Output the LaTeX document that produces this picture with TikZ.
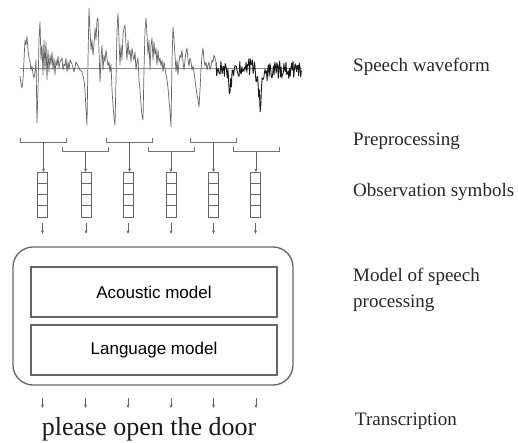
\documentclass[tikz,border=0pt]{standalone}
\usepackage{fontspec}
\setmainfont{Liberation Serif}
\newfontfamily\sansf{Liberation Sans}
\usetikzlibrary{arrows.meta}
\begin{document}
\begin{tikzpicture}[x=1pt,y=-1pt,
  wave/.style={draw=black!60,line width=0.7pt,line join=round},
  noise/.style={draw=black!90,line width=0.9pt,line join=round},
  zeroline/.style={draw=black!45,line width=0.5pt},
  brk/.style={draw=black!55,line width=0.8pt},
  arr/.style={draw=black!60,line width=0.7pt,-{Stealth[length=3.5pt,width=3pt]}},
  obsbox/.style={draw=black!60,line width=0.8pt,minimum width=10pt,minimum height=45pt,inner sep=0pt},
  modelbox/.style={draw=black!60,line width=1.2pt,minimum width=246pt,minimum height=50pt,font=\sansf\fontsize{17}{20}\selectfont},
  outerbox/.style={draw=black!60,line width=1.3pt,rounded corners=20pt,minimum width=280pt,minimum height=138pt},
  lbl/.style={anchor=base west,inner sep=0pt,font=\fontsize{19}{26}\selectfont,text=black!85,align=left}
]
\useasboundingbox (0,0) rectangle (518,443);

% ---------- speech waveform ----------
\draw[zeroline] (20,68) -- (302,68);
\draw[wave] plot coordinates {
(20,76) (21,84) (22,88) (23,80) (24,60) (25,40) (26,45) (27,36) (28,50) (29,58) (30,62) (31,70) (32,66) (33,74) (34,78) (35,72) (36,60)
(37,123) (38,90) (39,40) (40,22) (41,60) (42,45) (43,75) (44,40) (45,70) (46,42) (47,80) (48,50) (49,72) (50,55) (51,65) (52,52) (53,70) (54,58) (55,75) (56,60) (57,66) (58,56) (59,68) (60,62) (62,58) (63,70) (64,64) (65,66) (66,58) (67,72) (68,62) (69,70) (70,60) (72,64) (74,72) (76,62) (78,66) (80,70) (82,72) (84,80) (85,90)
(86,110) (87,125) (88,60) (89,8) (90,30) (91,50) (92,40) (93,55) (94,45) (95,28) (96,40) (97,20) (98,18) (99,50) (100,82) (101,60) (102,45) (103,70) (104,55) (105,62) (106,50) (107,58) (108,66) (109,62) (110,72) (111,64) (112,90) (113,105) (114,118) (115,125)
(116,80) (117,30) (118,13) (119,40) (120,65) (121,45) (122,60) (123,35) (124,28) (125,25) (126,45) (127,60) (128,40) (129,55) (130,50) (131,62) (132,48) (133,56) (134,60) (135,52) (136,70) (137,62) (138,58) (139,80) (140,90) (141,105) (142,115) (143,120)
(144,70) (145,30) (146,18) (147,35) (148,55) (149,40) (150,70) (151,45) (152,38) (153,60) (154,42) (155,55) (156,48) (157,65) (158,50) (159,62) (160,58) (161,66) (162,60) (163,72) (164,62) (165,68) (166,75) (167,80) (168,88) (169,100) (170,112) (171,127)
(172,60) (173,27) (174,40) (175,55) (176,72) (177,60) (178,75) (179,62) (180,55) (181,58) (182,50) (183,62) (184,70) (185,60) (186,52) (187,48) (188,60) (189,66) (190,58) (191,62) (192,70) (193,66) (194,72) (195,80) (196,88) (197,95) (198,100) (199,107) (200,90) (201,70) (202,55) (203,48) (204,60) (205,66) (206,62) (207,70) (208,65) (209,62) (210,70) (211,66) (212,60) (213,62) (214,55) (215,58) (216,62)};
\pgfmathsetseed{4242}
\draw[noise] (216,62) \foreach \i in {216.7,217.4,...,302} {
  -- (\i,{70 + 9*rand + 22*max(0,1-abs(\i-230)/3) + 28*max(0,1-abs(\i-260)/3) + 8*max(0,1-abs(\i-262)/10) - 5*max(0,1-abs(\i-245)/12)})
};

% ---------- preprocessing brackets ----------
\foreach \n/\x/\y in {1/43.5/142,2/85.5/151,3/129.5/142,4/171/151,5/213.5/142,6/256/151}{
  \coordinate (b\n) at (\x,\y);
  \draw[brk] ([shift={(-23,-4)}]b\n) -- ([xshift=-23]b\n) -- ([xshift=23]b\n) -- ([shift={(23,-4)}]b\n);
}

% ---------- observation symbols ----------
\foreach \n/\x in {1/42.5,2/86,3/128,4/171,5/213.5,6/255.5}{
  \node[obsbox,anchor=north] (o\n) at (\x,172) {};
  \foreach \k in {1,2,3}{
    \draw[draw=black!60,line width=0.8pt] ([yshift=-11.25*\k]o\n.north west) -- ([yshift=-11.25*\k]o\n.north east);
  }
  \coordinate (oa\n) at ([yshift=-5]o\n.south);
  \coordinate (ob\n) at ([yshift=-16]o\n.south);
  \draw[arr] (oa\n) -- (ob\n);
}
\foreach \n/\x in {1/42.5,3/128,5/213.5}{\draw[arr] (b\n) -- (b\n |- o\n.north);}
\foreach \n/\x in {2/86,4/171,6/255.5}{\draw[arr] (b\n) -- (b\n |- o\n.north);}

% ---------- model ----------
\node[outerbox] (outer) at (153,316) {};
\node[modelbox] (ac) at (154,292) {Acoustic model};
\node[modelbox] (lm) at (154,350) {Language model};

% ---------- transcription ----------
\foreach \n/\x in {1/42.5,2/85.5,3/128,4/171,5/213.5,6/256}{
  \coordinate (ta\n) at (\x,398);
  \coordinate (tb\n) at (\x,408);
  \draw[arr] (ta\n) -- (tb\n);
}
\node[anchor=base,inner sep=0pt,font=\fontsize{26}{30}\selectfont,text=black!90] (tr) at (149,435) {please open the door};

% ---------- right labels ----------
\node[lbl] (l1) at (353,72) {Speech waveform};
\node[lbl] (l2) at (353,146) {Preprocessing};
\node[lbl] (l3) at (353,197) {Observation symbols};
\node[lbl] (l4) at (353,307) {Model of speech\\processing};
\node[lbl] (l5) at (355,425) {Transcription};
\end{tikzpicture}
\end{document}
